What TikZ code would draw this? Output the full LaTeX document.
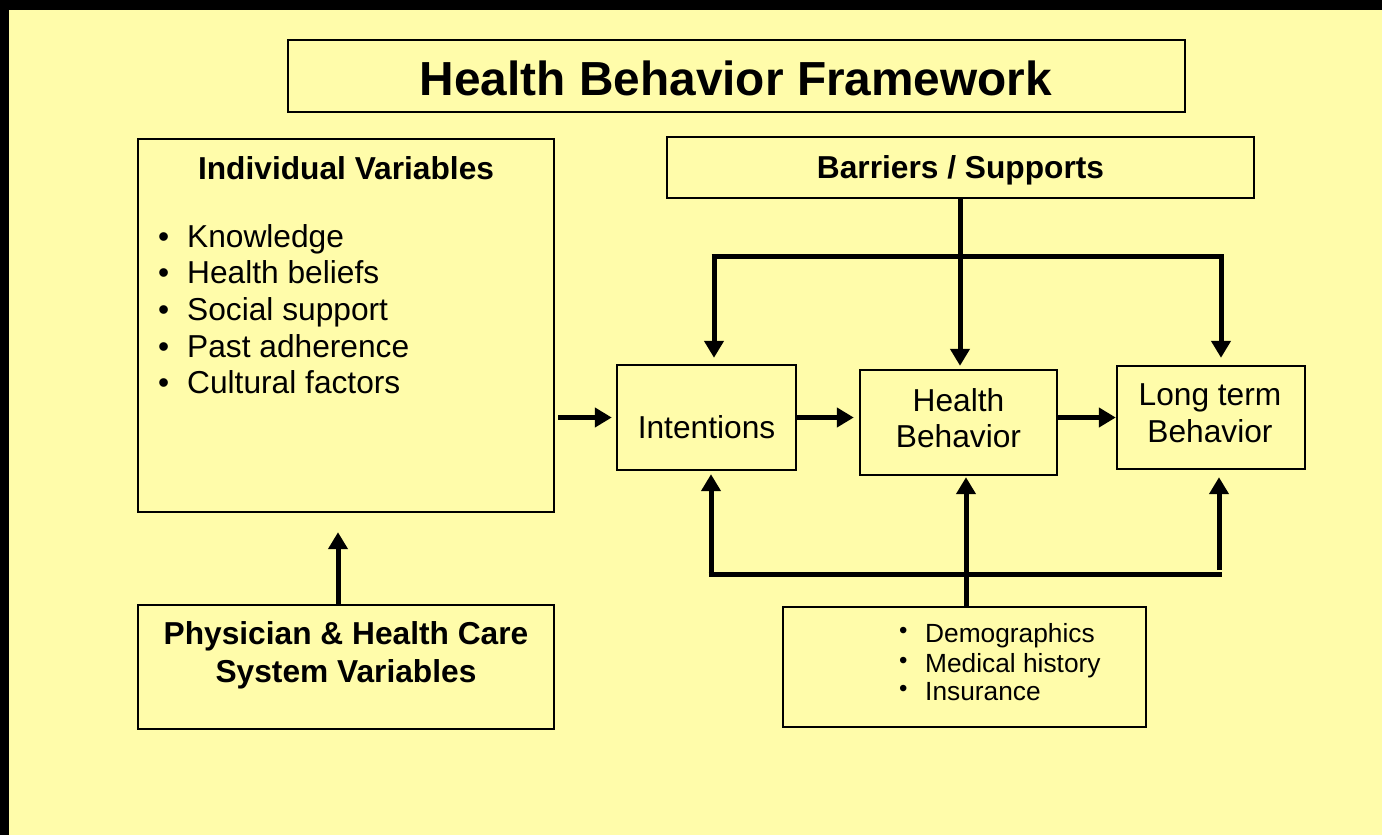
\documentclass[tikz,border=0pt]{standalone}
\usepackage{fontspec}
\setmainfont{Liberation Sans}
\usetikzlibrary{arrows.meta}
\definecolor{pad}{HTML}{FFFCAA}
\newcommand{\bigbul}{\makebox[29pt][l]{•}}
\newcommand{\smallbul}{\makebox[26pt][l]{\raisebox{4pt}{\fontsize{24}{24}\selectfont •}}}
\begin{document}
\begin{tikzpicture}[x=1pt,y=-1pt,
  box/.style={draw=black,line width=2.4pt,fill=pad,inner sep=0pt,rectangle},
  conn/.style={line width=5pt},
  arr/.style={conn,-{Triangle[length=17pt,width=19pt]}},
  lbl/.style={inner sep=0pt,font=\fontsize{31.7}{38}\selectfont},
  hdr/.style={lbl,font=\fontsize{31.7}{38}\selectfont\bfseries},
  small/.style={inner sep=0pt,font=\fontsize{26.3}{31}\selectfont}]
% page: black frame on the top and left, yellow pad elsewhere
\useasboundingbox (0,0) rectangle (1382,835);
\fill[black] (0,0) rectangle (1382,835);
\fill[pad] (9,10) rectangle (1382,835);

% boxes
\node[box,line width=2pt,minimum width=897pt,minimum height=72pt] (title) at (736.5,76) {};
\node[box,minimum width=416pt,minimum height=373pt] (indiv) at (346,325.5) {};
\node[box,minimum width=416pt,minimum height=124pt] (phys) at (346,667) {};
\node[box,minimum width=587pt,minimum height=61pt] (barr) at (960.5,167.5) {};
\node[box,minimum width=179pt,minimum height=105pt] (intent) at (706.5,417.5) {};
\node[box,minimum width=197pt,minimum height=105pt] (health) at (958.5,422.5) {};
\node[box,minimum width=188pt,minimum height=103pt] (longt) at (1211,417.5) {};
\node[box,minimum width=363pt,minimum height=120pt] (demo) at (964.5,667) {};

% texts
\node[inner sep=0pt,anchor=base,font=\fontsize{47.8}{57}\selectfont\bfseries] (titletxt) at (736,95) {Health Behavior Framework};
\node[hdr,anchor=base] (indivhdr) at (346,179) {Individual Variables};
\node[lbl,anchor=base west] (k1) at (158,247) {\bigbul Knowledge};
\node[lbl,anchor=base west] (k2) at (158,283) {\bigbul Health beliefs};
\node[lbl,anchor=base west] (k3) at (158,320) {\bigbul Social support};
\node[lbl,anchor=base west] (k4) at (158,357) {\bigbul Past adherence};
\node[lbl,anchor=base west] (k5) at (158,393) {\bigbul Cultural factors};
\node[hdr,anchor=base] (phys1) at (346,644) {Physician \& Health Care};
\node[hdr,anchor=base] (phys2) at (346,682) {System Variables};
\node[hdr,anchor=base] (barrtxt) at (960.5,178) {Barriers / Supports};
\node[lbl,anchor=base] (intenttxt) at (706.5,438) {Intentions};
\node[lbl,anchor=base] (health1) at (958.5,411) {Health};
\node[lbl,anchor=base] (health2) at (958.5,447) {Behavior};
\node[lbl,anchor=base] (longt1) at (1210,405) {Long term};
\node[lbl,anchor=base] (longt2) at (1210,442) {Behavior};
\node[small,anchor=base west] (d1) at (899,642) {\smallbul Demographics};
\node[small,anchor=base west] (d2) at (899,672) {\smallbul Medical history};
\node[small,anchor=base west] (d3) at (899,700) {\smallbul Insurance};

% left column and main chain
\draw[arr,shorten >=19pt] ([xshift=-8pt]phys.north) -- ([xshift=-8pt]indiv.south);
\draw[arr,shorten <=3pt,shorten >=4pt] (intent.west -| indiv.east) -- (intent.west);
\draw[arr,shorten >=5pt] (intent.east) -- (intent.east -| health.west);
\draw[arr] (longt.west -| health.east) -- (longt.west);

% barriers / supports fan-out
\coordinate (tl) at (714,256);
\coordinate (tr) at (1221,256);
\draw[conn] ([xshift=-2.5pt]tl) -- ([xshift=2.5pt]tr);
\draw[arr,shorten >=3pt] (barr.south -| 960,0) -- (health.north -| 960,0);
\draw[arr,shorten >=6pt] (tl) -- (tl |- intent.north);
\draw[arr,shorten >=7pt] (tr) -- (tr |- longt.north);

% background factors fan-in
\coordinate (bl) at (711,574);
\coordinate (br) at (1219,574);
\draw[conn] ([xshift=-2.5pt]bl) -- ([xshift=2.5pt]br);
\draw[arr,shorten >=1pt] (demo.north -| 966,0) -- (health.south -| 966,0);
\draw[arr,shorten >=3pt] ([yshift=2.5pt]bl) -- (bl |- intent.south);
\draw[arr,shorten >=7pt] ([yshift=4pt]br) -- (br |- longt.south);
\end{tikzpicture}
\end{document}
